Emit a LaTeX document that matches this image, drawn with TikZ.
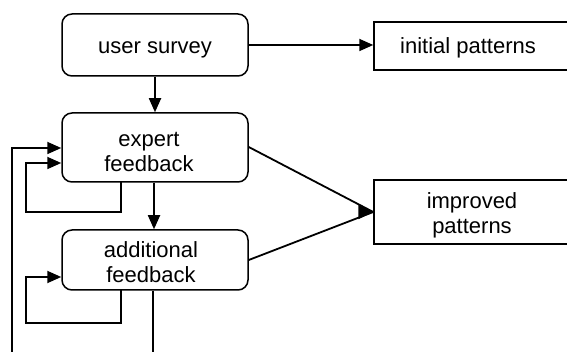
\documentclass[tikz,border=0pt]{standalone}
\usepackage{fontspec}
\setmainfont{Liberation Sans}
\usetikzlibrary{arrows.meta}
\newcommand{\topstrut}[1]{\rule{0pt}{#1}}
\begin{document}
\begin{tikzpicture}[x=1pt,y=-1pt,
  rbox/.style={draw,line width=1.5pt,rounded corners=10pt,minimum width=186pt,align=center,font=\fontsize{22}{25}\selectfont,inner sep=0pt},
  sbox/.style={draw,line width=1.5pt,align=center,font=\fontsize{22}{25}\selectfont,inner sep=0pt},
  conn/.style={line width=1.8pt},
  arr/.style={conn,-{Triangle[length=14pt,width=12pt]}}]
\useasboundingbox (0,0) rectangle (567,352);
\node[rbox,minimum height=62pt] (us) at (155,45) {\topstrut{21pt}user survey};
\node[sbox,minimum width=200pt,minimum height=48pt] (ip) at (474,46) {\hspace*{-12pt}\topstrut{20pt}initial patterns};
\node[rbox,minimum height=69pt] (ef) at (155,147.5) {\hspace*{-12pt}\topstrut{22.5pt}expert\\\hspace*{-12pt}feedback};
\node[rbox,minimum height=60pt] (af) at (155,260) {\hspace*{-8pt}\topstrut{21pt}additional\\\hspace*{-8pt}feedback};
\node[sbox,minimum width=200pt,minimum height=64pt] (ipp) at (474,212) {\hspace*{-4pt}\topstrut{23pt}improved\\\hspace*{-4pt}patterns};
\coordinate (tip) at (ipp.west);
\coordinate (b1) at (12,352);
\coordinate (b2) at (153,352);
% connectors
\draw[arr] (us.east) -- (ip.west |- us.east);
\draw[arr] (us.south) -- (ef.north);
\draw[arr] (ef.south -| 154,0) -- (af.north -| 154,0);
\draw[conn] (ef.east |- 0,147) -- (tip);
\draw[conn] (af.east |- 0,260) -- (tip);
\draw[arr,-{Triangle[length=15pt,width=14pt]}] (tip) ++(-1,0) -- (tip);
\draw[arr] (b1) |- (ef.west |- 0,148);
\draw[arr] (121,182) |- (26,212) |- (ef.west |- 0,163);
\draw[arr] (121,290) |- (26,323) |- (af.west |- 0,277);
\draw[conn] (af.south -| b2) -- (b2);
\end{tikzpicture}
\end{document}
